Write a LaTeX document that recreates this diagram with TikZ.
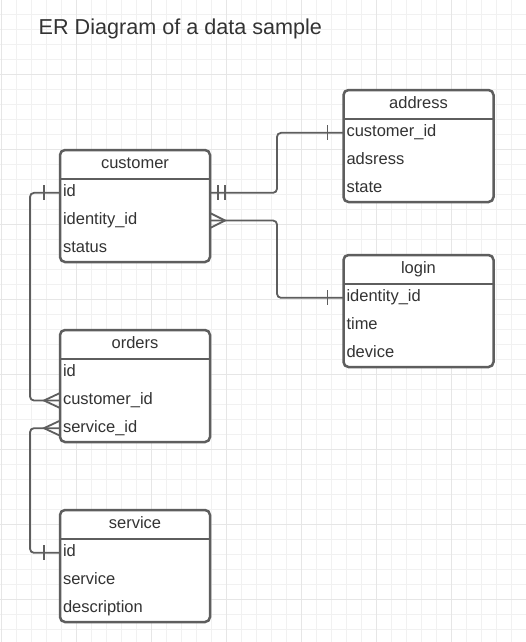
\documentclass[tikz,border=0pt]{standalone}
\usepackage{fontspec}
\setmainfont{Liberation Sans}
\usetikzlibrary{positioning}

\definecolor{linegray}{HTML}{5E5E5E}
\definecolor{textgray}{HTML}{333333}
\definecolor{gridminor}{HTML}{F1F1F1}
\definecolor{gridmajor}{HTML}{E6E6E6}

\begin{document}
\begin{tikzpicture}[x=1pt, y=-1pt]
    \tikzstyle{entity} = [rectangle, rounded corners=5pt, minimum width=150pt, minimum height=112pt, inner sep=0pt, outer sep=0pt, draw=linegray, line width=2.5pt, fill=white]
    \tikzstyle{header} = [rectangle, minimum width=150pt, minimum height=29pt, inner sep=0pt, outer sep=0pt, text height=12pt, text depth=4pt, text=textgray, font=\fontsize{16.5}{18}\selectfont]
    \tikzstyle{field} = [rectangle, text width=144pt, inner xsep=3pt, inner ysep=0pt, outer sep=0pt, minimum height=27.67pt, text height=12pt, text depth=4pt, align=left, text=textgray, font=\fontsize{16.5}{18}\selectfont]
    \tikzstyle{divider} = [draw=linegray, line width=2.5pt]
    \tikzstyle{link} = [draw=linegray, line width=1.8pt, rounded corners=4pt]
    \tikzstyle{ending} = [draw=linegray, line width=1.8pt]

    % page and grid
    \fill[white] (0,0) rectangle (526,642);
    \useasboundingbox (0,0) rectangle (526,642);
    \clip (0,0) rectangle (526,642);
    \begin{scope}[shift={(1,-0.7)}]
        \draw[gridminor, line width=0.7pt, step=15pt] (-15,660) grid (540,-15);
        \draw[gridmajor, line width=0.7pt, step=75pt] (-75,675) grid (600,-75);
    \end{scope}

    \node (title) [anchor=base west, inner sep=0pt, text=textgray, font=\fontsize{21.6}{24}\selectfont] at (38.5,35) {ER Diagram of a data sample};

    % customer
    \node (customer) [entity] at (135,206) {};
    \node (customer-head) [header, below=0pt of customer.north] {customer};
    \node (customer-id) [field, below=0pt of customer-head] {id};
    \node (customer-ident) [field, below=0pt of customer-id] {identity\_id};
    \node (customer-status) [field, below=0pt of customer-ident] {status};
    \draw [divider] (customer-head.south west) -- (customer-head.south east);

    % address
    \node (address) [entity] at (418.5,146) {};
    \node (address-head) [header, below=0pt of address.north] {address};
    \node (address-cust) [field, below=0pt of address-head] {customer\_id};
    \node (address-addr) [field, below=0pt of address-cust] {adsress};
    \node (address-state) [field, below=0pt of address-addr] {state};
    \draw [divider] (address-head.south west) -- (address-head.south east);

    % login
    \node (login) [entity] at (418.5,311) {};
    \node (login-head) [header, below=0pt of login.north] {login};
    \node (login-ident) [field, below=0pt of login-head] {identity\_id};
    \node (login-time) [field, below=0pt of login-ident] {time};
    \node (login-device) [field, below=0pt of login-time] {device};
    \draw [divider] (login-head.south west) -- (login-head.south east);

    % orders
    \node (orders) [entity] at (135,386) {};
    \node (orders-head) [header, below=0pt of orders.north] {orders};
    \node (orders-id) [field, below=0pt of orders-head] {id};
    \node (orders-cust) [field, below=0pt of orders-id] {customer\_id};
    \node (orders-serv) [field, below=0pt of orders-cust] {service\_id};
    \draw [divider] (orders-head.south west) -- (orders-head.south east);

    % service
    \node (service) [entity] at (135,566) {};
    \node (service-head) [header, below=0pt of service.north] {service};
    \node (service-id) [field, below=0pt of service-head] {id};
    \node (service-name) [field, below=0pt of service-id] {service};
    \node (service-desc) [field, below=0pt of service-name] {description};
    \draw [divider] (service-head.south west) -- (service-head.south east);

    % relations
    \draw [link] (customer-id.west) -- ++(-30,0) |- (orders-cust.west);
    \draw [link] (orders-serv.west) -- ++(-30,0) |- (service-id.west);
    \draw [link] (customer-id.east) -- ++(67,0) |- (address-cust.west);
    \draw [link] (customer-ident.east) -- ++(67,0) |- (login-ident.west);

    % one ends
    \draw [ending] ([xshift=-16pt]customer-id.west) ++(0,-7.5) -- ++(0,15);
    \draw [ending] ([xshift=-16pt]service-id.west) ++(0,-7.5) -- ++(0,15);
    \draw [ending] ([xshift=-16pt]address-cust.west) ++(0,-7.5) -- ++(0,15);
    \draw [ending] ([xshift=-16pt]login-ident.west) ++(0,-7.5) -- ++(0,15);
    \draw [ending] ([xshift=8pt]customer-id.east) ++(0,-7.5) -- ++(0,15);
    \draw [ending] ([xshift=15pt]customer-id.east) ++(0,-7.5) -- ++(0,15);

    % many ends
    \draw [ending] ([yshift=7.5pt]orders-cust.west) -- ([xshift=-16pt]orders-cust.west) -- ([yshift=-7.5pt]orders-cust.west);
    \draw [ending] ([yshift=7.5pt]orders-serv.west) -- ([xshift=-16pt]orders-serv.west) -- ([yshift=-7.5pt]orders-serv.west);
    \draw [ending] ([yshift=7.5pt]customer-ident.east) -- ([xshift=15pt]customer-ident.east) -- ([yshift=-7.5pt]customer-ident.east);
\end{tikzpicture}
\end{document}
